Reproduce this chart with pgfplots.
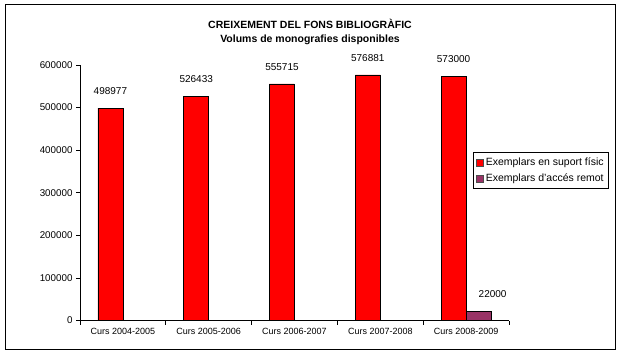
\documentclass[border=0pt]{standalone}
\usepackage{pgfplots}
\pgfplotsset{compat=1.18}
\usepackage{fontspec}
\setmainfont{Liberation Sans}
\definecolor{barred}{HTML}{FF0000}
\definecolor{barpurple}{HTML}{993366}
\begin{document}
\begin{tikzpicture}[x=1pt,y=1pt]
\path[use as bounding box] (0,0) rectangle (622,354);
\draw[line width=1pt] (5,5) rectangle (615,349);
\node[font=\fontsize{10.5}{14.3}\selectfont\bfseries, align=center] at (310,322) {CREIXEMENT DEL FONS BIBLIOGRÀFIC\\Volums de monografies disponibles};
\begin{axis}[
  at={(80pt,33.5pt)}, anchor=south west,
  scale only axis, width=429pt, height=255.5pt,
  xmin=-0.5, xmax=4.5, ymin=0, ymax=600000,
  axis lines=left, axis line style={-, line width=0.8pt},
  tick align=outside, major tick length=4pt, minor tick length=4pt,
  tick style={black, line width=0.8pt},
  ytick={0,100000,200000,300000,400000,500000,600000},
  scaled y ticks=false,
  yticklabel style={/pgf/number format/fixed, /pgf/number format/1000 sep={}, font=\fontsize{9.8}{11}\selectfont},
  /pgf/number format/assume math mode=true,
  xtick={0,1,2,3,4},
  xticklabels={Curs 2004-2005,Curs 2005-2006,Curs 2006-2007,Curs 2007-2008,Curs 2008-2009},
  xticklabel style={font=\fontsize{9}{10}\selectfont},
  major x tick style={draw=none},
  minor xtick={-0.5,0.5,1.5,2.5,3.5,4.5},
  ybar, bar width=25pt,
  point meta=explicit symbolic,
  nodes near coords,
  nodes near coords style={font=\fontsize{10}{12}\selectfont, anchor=south, yshift=10pt, black},
  legend style={at={(0.916,0.658)}, anchor=north west, draw=black, line width=0.6pt,
    font=\fontsize{10.5}{12}\selectfont, cells={anchor=west}, inner xsep=3pt, inner ysep=3pt, row sep=3pt, fill=white},
]
\addplot[fill=barred, draw=black, line width=0.6pt, bar shift=-12.5pt,
  legend image code/.code={\draw[fill=barred, draw=black!70, line width=0.5pt] (0pt,-3.5pt) rectangle (7pt,3.5pt);}]
  coordinates {(0,498977)[498977] (1,526433)[526433] (2,555715)[555715] (3,576881)[576881] (4,573000)[573000]};
\addplot[fill=barpurple, draw=black, line width=0.6pt, bar shift=12.5pt,
  nodes near coords style={xshift=14pt},
  legend image code/.code={\draw[fill=barpurple, draw=black!70, line width=0.5pt] (0pt,-3.5pt) rectangle (7pt,3.5pt);}]
  coordinates {(4,22000)[22000]};
\legend{Exemplars en suport físic, Exemplars d\char"0027accés remot}
\end{axis}
\end{tikzpicture}
\end{document}
